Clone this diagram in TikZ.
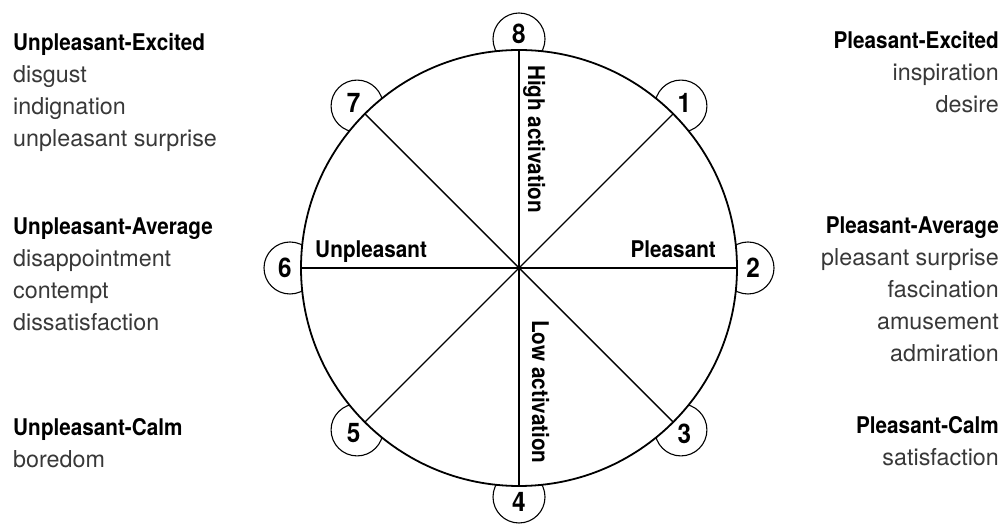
\documentclass[tikz,border=0pt]{standalone}
\usepackage{fontspec}
\setmainfont{TeX Gyre Heros}
\newfontfamily\headfont{TeX Gyre Heros}[FakeStretch=0.9]
\usetikzlibrary{positioning}

\newcommand\blockhead[1]{{\headfont\fontsize{23}{32}\selectfont\bfseries\color{black}#1}}

\begin{document}
\begin{tikzpicture}[x=1pt, y=1pt,
  ring/.style={draw, circle, line width=1.1pt, minimum size=52pt, inner sep=0pt},
  numtxt/.style={font=\headfont\fontsize{27}{27}\selectfont\bfseries, inner sep=0pt},
  wheel/.style={draw, circle, line width=1.8pt, fill=white, minimum size=436pt,
                inner sep=0pt, outer sep=0pt},
  axis/.style={line width=1.4pt},
  axlabel/.style={font=\headfont\fontsize{23}{23}\selectfont\bfseries, inner sep=0pt},
  block/.style={font=\fontsize{23.3}{32}\selectfont, text=black!78, inner sep=0pt}
]
\useasboundingbox (0,0) rectangle (1007,524);
\coordinate (ctr) at (519,256);

% number rings (inner part hidden by the wheel)
\foreach \n/\a in {1/45,2/0,3/-45,4/-90,5/-135,6/180,7/135,8/90}
  \node[ring] (r\n) at ([shift={(\a:229)}]ctr) {};

% wheel with four axes
\node[wheel] (wheel) at (ctr) {};
\draw[axis] (wheel.90) -- (wheel.-90);
\draw[axis] (wheel.180) -- (wheel.0);
\draw[axis] (wheel.135) -- (wheel.-45);
\draw[axis] (wheel.45) -- (wheel.-135);

% numbers
\foreach \n/\a in {1/45,2/0,3/-45,4/-90,5/-135,6/180,7/135,8/90}
  \node[numtxt] (n\n) at ([shift={(\a:5)}]r\n) {\n};

% axis labels
\node[axlabel, anchor=base west] (unpl) at (315,266) {Unpleasant};
\node[axlabel, anchor=base east] (pleas) at (716,266) {Pleasant};
\node[axlabel, rotate=-90, anchor=base west] (high) at (528,459) {High activation};
\node[axlabel, rotate=-90, anchor=base west] (low) at (532,204) {Low activation};

% left column
\node[block, align=left, anchor=north west] (unpexc) at (13,490.5)
  {\blockhead{Unpleasant-Excited}\\disgust\\indignation\\unpleasant surprise};
\node[block, align=left, anchor=north west] (unpavg) at (13,306.5)
  {\blockhead{Unpleasant-Average}\\disappointment\\contempt\\dissatisfaction};
\node[block, align=left, anchor=north west] (unpcalm) at (13,105.5)
  {\blockhead{Unpleasant-Calm}\\boredom};

% right column
\node[block, align=right, anchor=north east] (plexc) at (999,492.5)
  {\blockhead{Pleasant-Excited}\\inspiration\\desire};
\node[block, align=right, anchor=north east] (plavg) at (999,307.5)
  {\blockhead{Pleasant-Average}\\pleasant surprise\\fascination\\amusement\\admiration};
\node[block, align=right, anchor=north east] (plcalm) at (999,107.5)
  {\blockhead{Pleasant-Calm}\\satisfaction};
\end{tikzpicture}
\end{document}
